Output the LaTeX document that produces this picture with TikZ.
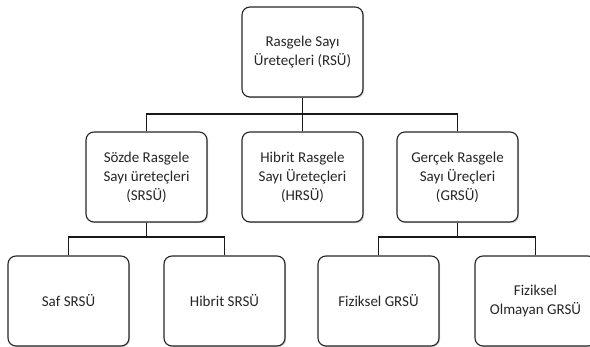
\documentclass[tikz,border=0pt]{standalone}
\usepackage{fontspec}
\setmainfont{Carlito}
\usepackage{tikz}
\usetikzlibrary{calc,shadows}

\begin{document}
\begin{tikzpicture}[x=1pt,y=-1pt,
  kutu/.style={draw=black!85,line width=1.1pt,rounded corners=8pt,fill=white,
    minimum width=121pt,minimum height=90pt,align=center,inner sep=2pt,
    font=\fontsize{15}{19}\selectfont,text=black!85,
    drop shadow={shadow xshift=1.2pt,shadow yshift=-1.2pt,opacity=0.35}},
  bag/.style={draw=black!90,line width=1.3pt}]
  % Page frame (the last box runs off the right edge)
  \clip (0,0) rectangle (590,347);

  % Bus heights
  \coordinate (ust) at (0,114); % upper bus
  \coordinate (alt) at (0,237); % lower bus

  % Root
  \node[kutu] (rsu) at (302.5,52) {Rasgele Sayı\\Üreteçleri (RSÜ)};

  % Second row
  \node[kutu] (srsu) at (146.5,177) {Sözde Rasgele\\Sayı üreteçleri\\(SRSÜ)};
  \node[kutu] (hrsu) at (302.5,177) {Hibrit Rasgele\\Sayı Üreteçleri\\(HRSÜ)};
  \node[kutu] (grsu) at (457.5,177) {Gerçek Rasgele\\Sayı Üreçleri\\(GRSÜ)};

  % Third row
  \node[kutu] (saf) at (68.5,301) {Saf SRSÜ};
  \node[kutu] (hsrsu) at (224.5,301) {Hibrit SRSÜ};
  \node[kutu] (fgrsu) at (378.5,301) {Fiziksel GRSÜ};
  \node[kutu] (ogrsu) at (535.5,301) {Fiziksel\\Olmayan GRSÜ};

  % Connectors from the root
  \draw[bag] (rsu.south) -- (rsu.south |- ust);
  \draw[bag] (srsu.north) |- (grsu.north |- ust) -- (grsu.north);
  \draw[bag] (hrsu.north) -- (hrsu.north |- ust);

  % Connectors to the third row
  \draw[bag] (srsu.south) -- (srsu.south |- alt);
  \draw[bag] (saf.north) |- (hsrsu.north |- alt) -- (hsrsu.north);
  \draw[bag] (grsu.south) -- (grsu.south |- alt);
  \draw[bag] (fgrsu.north) |- (ogrsu.north |- alt) -- (ogrsu.north);
\end{tikzpicture}
\end{document}
